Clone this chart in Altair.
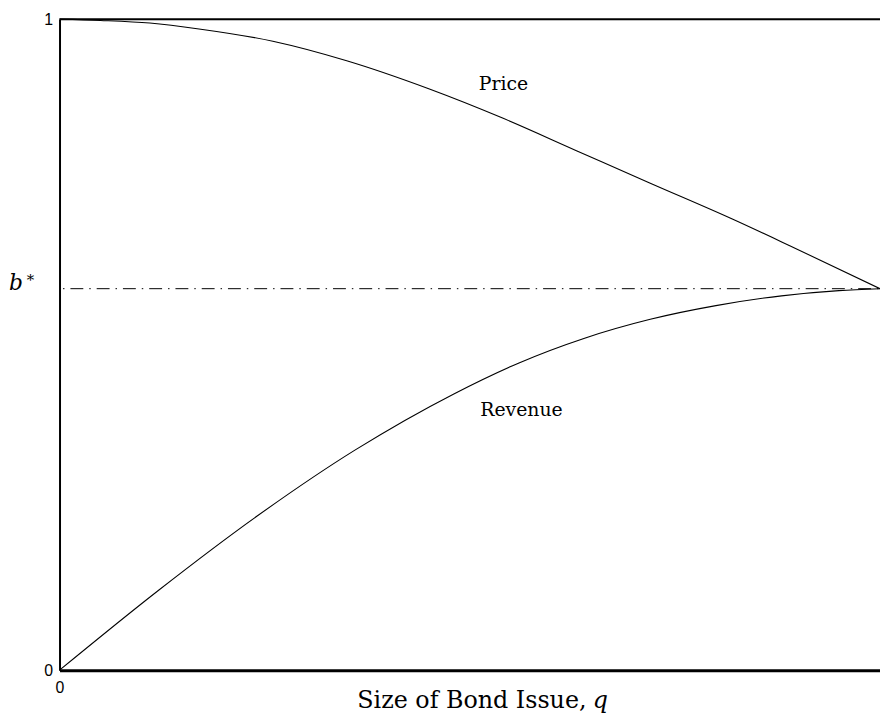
import altair as alt
import pandas as pd

# Price curve
q_price = [0.0, 0.05, 0.11, 0.17, 0.26, 0.35, 0.45, 0.54, 0.63, 0.72, 0.82, 0.89, 1.0]
price = [1.0, 0.998, 0.994, 0.985, 0.966, 0.936, 0.893, 0.848, 0.798, 0.748, 0.693, 0.652, 0.586]

# Revenue curve
q_rev = [0.0, 0.12, 0.24, 0.36, 0.48, 0.56, 0.64, 0.72, 0.80, 0.88, 0.95, 1.0]
revenue = [0.0, 0.122, 0.236, 0.338, 0.424, 0.472, 0.510, 0.539, 0.560, 0.575, 0.583, 0.586]

b_star = 0.586

label_text = ["Price", "Revenue"]
label_q = [0.541, 0.563]
label_v = [0.900, 0.399]

x_ticks = [0]
y_ticks = [0, 1]

curves = pd.concat([
    pd.DataFrame({"q": q_price, "v": price, "series": "Price"}),
    pd.DataFrame({"q": q_rev, "v": revenue, "series": "Revenue"}),
])
labels = pd.DataFrame({"q": label_q, "v": label_v, "text": label_text})
bstar_df = pd.DataFrame({"v": [b_star]})
top_df = pd.DataFrame({"v": [1.0]})
qvar_df = pd.DataFrame({"t": ["q"]})

X = alt.X(
    "q:Q",
    scale=alt.Scale(domain=[0, 1], nice=False, zero=False),
    axis=alt.Axis(
        values=x_ticks, format="d", grid=False, ticks=False, tickSize=0,
        domainColor="black", domainWidth=3, labelFlush=False,
        labelFont="Liberation Sans", labelFontSize=16, labelColor="black",
        labelPadding=10,
        title="Size of Bond Issue,", titleFont="DejaVu Serif",
        titleFontSize=24, titleFontWeight="normal", titleColor="black",
        titleAlign="left", titleAnchor="start",
        titleX=300, titleY=38, titleBaseline="alphabetic",
    ),
)
Y = alt.Y(
    "v:Q",
    scale=alt.Scale(domain=[0, 1], nice=False, zero=False),
    axis=alt.Axis(
        values=y_ticks, format="d", grid=False, ticks=False, tickSize=0,
        domainColor="black", domainWidth=2, labelFlush=False,
        labelFont="Liberation Sans", labelFontSize=16, labelColor="black",
        labelPadding=7, title=None,
    ),
)

lines = alt.Chart(curves).mark_line(
    color="black", strokeWidth=1.1, interpolate="monotone"
).encode(x=X, y=Y, detail="series:N")

top_rule = alt.Chart(top_df).mark_rule(color="black", strokeWidth=2).encode(y=Y)

bstar_rule = alt.Chart(bstar_df).mark_rule(
    color="black", strokeWidth=1, strokeDash=[13, 6, 1.5, 6], strokeDashOffset=17.5
).encode(y=Y)

curve_labels = alt.Chart(labels).mark_text(
    font="DejaVu Serif", fontSize=19, color="black"
).encode(x=X, y=Y, text="text:N")

b_label = alt.Chart(bstar_df).mark_text(
    text="b", font="DejaVu Serif", fontStyle="italic", fontSize=22,
    color="black", align="left", baseline="alphabetic", dy=1
).encode(x=alt.value(-51), y=Y)

star_label = alt.Chart(bstar_df).mark_text(
    text="*", font="DejaVu Serif", fontSize=15,
    color="black", align="left", baseline="alphabetic", dy=-4
).encode(x=alt.value(-33), y=Y)

q_label = alt.Chart(qvar_df).mark_text(
    font="DejaVu Serif", fontStyle="italic", fontSize=24,
    color="black", align="left", baseline="alphabetic"
).encode(x=alt.value(538), y=alt.value(695), text="t:N")

chart = alt.layer(
    top_rule, bstar_rule, lines, curve_labels, b_label, star_label, q_label
).properties(
    width=828, height=657,
    autosize=alt.AutoSizeParams(type="none"),
    padding={"left": 52, "top": 8, "right": 0, "bottom": 44},
).configure_view(stroke=None).configure(background="white")

chart.save("out.html", embed_options={"renderer": "svg", "actions": False})
